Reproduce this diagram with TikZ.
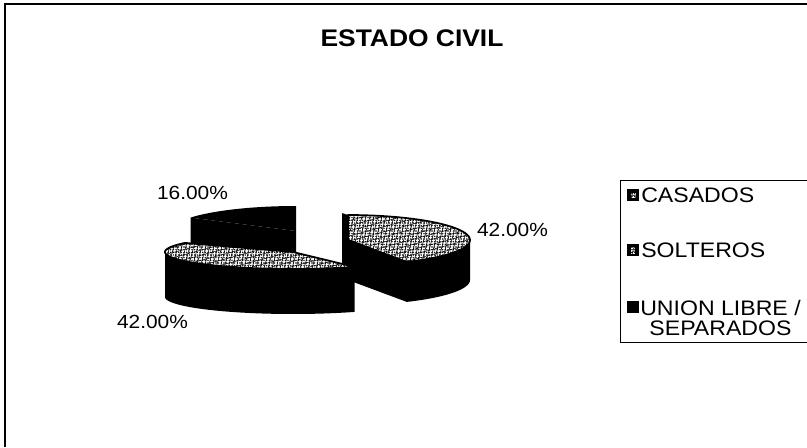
\documentclass[tikz,border=0pt]{standalone}
\usepackage{fontspec}
\setmainfont{Liberation Sans}
\newfontfamily\labfont[FakeStretch=1.1]{Liberation Sans}
\usetikzlibrary{patterns.meta}
\tikzset{
  speckle/.style={fill=white,
    postaction={pattern={Dots[distance=2pt,radius=0.6pt]}, pattern color=black},
    postaction={pattern={Lines[angle=75,distance=2.9pt,line width=0.45pt]}, pattern color=black},
    postaction={pattern={Lines[angle=15,distance=3.7pt,line width=0.4pt]}, pattern color=black}},
  solidblk/.style={fill=black},
  rim/.style={draw=black, line width=1.3pt, line join=round},
  frameline/.style={draw=black, line width=0.9pt},
  lbl/.style={font=\labfont\fontsize{14.25}{16}\selectfont, inner sep=0pt},
  legtxt/.style={font=\labfont\fontsize{15.75}{15}\selectfont, inner sep=0pt},
  ttl/.style={font=\labfont\bfseries\fontsize{18}{20}\selectfont, inner sep=0pt},
  legicon/.style={fill=black}
}
\begin{document}
\begin{tikzpicture}[x=0.75pt,y=-0.75pt]
\useasboundingbox (0,0) rectangle (807,447);
% outer frame (only left and top edges visible)
\draw[frameline] (5,447) -- (5,4) -- (807,4);
% title
\node[ttl] (title) at (412,38) {ESTADO CIVIL};

% ---- UNION LIBRE / SEPARADOS slice (black, back left)
\fill[solidblk] (296,231) -- plot[domain=90:147.6,samples=30] ({296+125*cos(\x)},{231-25*sin(\x)}) -- cycle;
\fill[solidblk] (296,231) -- (190.5,217.6) -- (190.5,259.6) -- (296,273) -- cycle;

% ---- CASADOS slice (exploded right)
\fill[solidblk] plot[domain=-61.2:0,samples=30] ({348+122*cos(\x)},{240-25*sin(\x)})
  -- plot[domain=0:-61.2,samples=30] ({348+122*cos(\x)},{280-25*sin(\x)}) -- cycle;
\fill[solidblk] (348,240) -- (406.8,261.9) -- (406.8,301.9) -- (348,280) -- cycle;
\fill[solidblk] (342,213) -- (348,215) -- (348,280) -- (342,270) -- cycle;
\path[speckle] (348,240) -- plot[domain=90:-61.2,samples=40] ({348+122*cos(\x)},{240-25*sin(\x)}) -- cycle;
\draw[rim] (348,240) -- plot[domain=90:-61.2,samples=40] ({348+122*cos(\x)},{240-25*sin(\x)}) -- cycle;

% ---- SOLTEROS slice (front)
\fill[solidblk] plot[domain=180:298.8,samples=40] ({293+128*cos(\x)},{252-17*sin(\x)})
  -- plot[domain=298.8:180,samples=40] ({293+128*cos(\x)},{297-17*sin(\x)}) -- cycle;
\path[speckle] (293,252) -- plot[domain=147.6:298.8,samples=50] ({293+128*cos(\x)},{252-17*sin(\x)}) -- cycle;
\draw[rim] (293,252) -- plot[domain=147.6:298.8,samples=50] ({293+128*cos(\x)},{252-17*sin(\x)}) -- cycle;

% ---- data labels
\node[lbl] (pUnion) at (192.5,193) {16.00\%};
\node[lbl] (pCasados) at (512.5,230) {42.00\%};
\node[lbl] (pSolteros) at (152.5,322) {42.00\%};

% ---- legend
\draw[frameline, line width=0.7pt] (807,180) -- (620,180) -- (620,342) -- (807,342);
\fill[legicon] (627,189) rectangle (639,201);
\path[speckle] (630.5,192.5) rectangle (635.5,197.5);
\node[legtxt, anchor=west] (lCasados) at (641,195) {CASADOS};
\fill[legicon] (627,244) rectangle (639,256);
\path[speckle] (630.5,246.5) rectangle (635,253.5);
\node[legtxt, anchor=west] (lSolteros) at (641,250) {SOLTEROS};
\fill[legicon] (627,301) rectangle (639,313);
\node[legtxt, align=center] (lUnion) at (720.5,318) {UNION LIBRE /\\SEPARADOS};
\end{tikzpicture}
\end{document}
